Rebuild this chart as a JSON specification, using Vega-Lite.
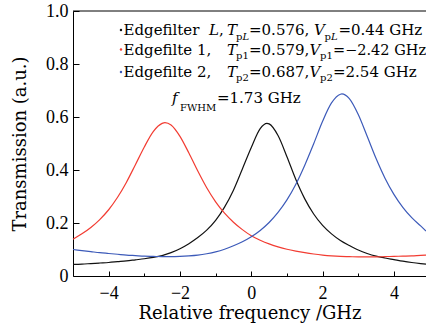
{
  "$schema": "https://vega.github.io/schema/vega-lite/v6.json",
  "width": 353,
  "height": 265,
  "autosize": {"type": "none"},
  "padding": {"left": 73, "top": 11, "right": 0, "bottom": 50},
  "background": "white",
  "data": {"values": [{"k": 1}]},
  "config": {
    "view": {"stroke": null},
    "font": "DejaVu Serif",
    "axis": {"grid": false, "domainColor": "black", "tickColor": "black", "labelColor": "black", "titleColor": "black", "labelFont": "Liberation Serif", "labelFontSize": 18, "titleFont": "DejaVu Serif", "titleFontSize": 18, "titleFontWeight": "normal", "domainWidth": 1, "tickWidth": 1},
    "text": {"font": "DejaVu Serif", "color": "black"}
  },
  "datasets": {
    "curves": [
      {"s": "L", "f": -5, "t": 0.044}, {"s": "L", "f": -4.75, "t": 0.045}, {"s": "L", "f": -4.5, "t": 0.047}, {"s": "L", "f": -4.25, "t": 0.049}, {"s": "L", "f": -4, "t": 0.051}, {"s": "L", "f": -3.75, "t": 0.054}, {"s": "L", "f": -3.5, "t": 0.057}, {"s": "L", "f": -3.25, "t": 0.061}, {"s": "L", "f": -3, "t": 0.065}, {"s": "L", "f": -2.75, "t": 0.070}, {"s": "L", "f": -2.5, "t": 0.077}, {"s": "L", "f": -2.25, "t": 0.088}, {"s": "L", "f": -2, "t": 0.103}, {"s": "L", "f": -1.75, "t": 0.122}, {"s": "L", "f": -1.5, "t": 0.145}, {"s": "L", "f": -1.25, "t": 0.173}, {"s": "L", "f": -1, "t": 0.210}, {"s": "L", "f": -0.75, "t": 0.260}, {"s": "L", "f": -0.5, "t": 0.324}, {"s": "L", "f": -0.25, "t": 0.404}, {"s": "L", "f": 0, "t": 0.485}, {"s": "L", "f": 0.25, "t": 0.556}, {"s": "L", "f": 0.44, "t": 0.576}, {"s": "L", "f": 0.5, "t": 0.574}, {"s": "L", "f": 0.75, "t": 0.530}, {"s": "L", "f": 1, "t": 0.450}, {"s": "L", "f": 1.25, "t": 0.364}, {"s": "L", "f": 1.5, "t": 0.291}, {"s": "L", "f": 1.75, "t": 0.234}, {"s": "L", "f": 2, "t": 0.191}, {"s": "L", "f": 2.25, "t": 0.159}, {"s": "L", "f": 2.5, "t": 0.134}, {"s": "L", "f": 2.75, "t": 0.115}, {"s": "L", "f": 3, "t": 0.098}, {"s": "L", "f": 3.25, "t": 0.085}, {"s": "L", "f": 3.5, "t": 0.075}, {"s": "L", "f": 3.75, "t": 0.068}, {"s": "L", "f": 4, "t": 0.062}, {"s": "L", "f": 4.25, "t": 0.056}, {"s": "L", "f": 4.5, "t": 0.051}, {"s": "L", "f": 4.75, "t": 0.047}, {"s": "L", "f": 4.9, "t": 0.045},
      {"s": "1", "f": -5, "t": 0.139}, {"s": "1", "f": -4.75, "t": 0.159}, {"s": "1", "f": -4.5, "t": 0.183}, {"s": "1", "f": -4.25, "t": 0.213}, {"s": "1", "f": -4, "t": 0.250}, {"s": "1", "f": -3.75, "t": 0.297}, {"s": "1", "f": -3.5, "t": 0.354}, {"s": "1", "f": -3.25, "t": 0.420}, {"s": "1", "f": -3, "t": 0.487}, {"s": "1", "f": -2.75, "t": 0.545}, {"s": "1", "f": -2.5, "t": 0.576}, {"s": "1", "f": -2.42, "t": 0.579}, {"s": "1", "f": -2.25, "t": 0.570}, {"s": "1", "f": -2, "t": 0.527}, {"s": "1", "f": -1.75, "t": 0.464}, {"s": "1", "f": -1.5, "t": 0.396}, {"s": "1", "f": -1.25, "t": 0.333}, {"s": "1", "f": -1, "t": 0.280}, {"s": "1", "f": -0.75, "t": 0.237}, {"s": "1", "f": -0.5, "t": 0.203}, {"s": "1", "f": -0.25, "t": 0.175}, {"s": "1", "f": 0, "t": 0.152}, {"s": "1", "f": 0.25, "t": 0.135}, {"s": "1", "f": 0.5, "t": 0.121}, {"s": "1", "f": 0.75, "t": 0.110}, {"s": "1", "f": 1, "t": 0.101}, {"s": "1", "f": 1.25, "t": 0.094}, {"s": "1", "f": 1.5, "t": 0.088}, {"s": "1", "f": 1.75, "t": 0.083}, {"s": "1", "f": 2, "t": 0.079}, {"s": "1", "f": 2.25, "t": 0.076}, {"s": "1", "f": 2.5, "t": 0.074}, {"s": "1", "f": 2.75, "t": 0.073}, {"s": "1", "f": 3, "t": 0.072}, {"s": "1", "f": 3.25, "t": 0.072}, {"s": "1", "f": 3.5, "t": 0.072}, {"s": "1", "f": 3.75, "t": 0.073}, {"s": "1", "f": 4, "t": 0.074}, {"s": "1", "f": 4.25, "t": 0.075}, {"s": "1", "f": 4.5, "t": 0.076}, {"s": "1", "f": 4.75, "t": 0.078}, {"s": "1", "f": 4.9, "t": 0.079},
      {"s": "2", "f": -5, "t": 0.100}, {"s": "2", "f": -4.75, "t": 0.096}, {"s": "2", "f": -4.5, "t": 0.092}, {"s": "2", "f": -4.25, "t": 0.088}, {"s": "2", "f": -4, "t": 0.085}, {"s": "2", "f": -3.75, "t": 0.082}, {"s": "2", "f": -3.5, "t": 0.079}, {"s": "2", "f": -3.25, "t": 0.077}, {"s": "2", "f": -3, "t": 0.075}, {"s": "2", "f": -2.75, "t": 0.074}, {"s": "2", "f": -2.5, "t": 0.073}, {"s": "2", "f": -2.25, "t": 0.073}, {"s": "2", "f": -2, "t": 0.074}, {"s": "2", "f": -1.75, "t": 0.076}, {"s": "2", "f": -1.5, "t": 0.079}, {"s": "2", "f": -1.25, "t": 0.084}, {"s": "2", "f": -1, "t": 0.091}, {"s": "2", "f": -0.75, "t": 0.101}, {"s": "2", "f": -0.5, "t": 0.114}, {"s": "2", "f": -0.25, "t": 0.129}, {"s": "2", "f": 0, "t": 0.148}, {"s": "2", "f": 0.25, "t": 0.172}, {"s": "2", "f": 0.5, "t": 0.202}, {"s": "2", "f": 0.75, "t": 0.240}, {"s": "2", "f": 1, "t": 0.287}, {"s": "2", "f": 1.25, "t": 0.346}, {"s": "2", "f": 1.5, "t": 0.418}, {"s": "2", "f": 1.75, "t": 0.499}, {"s": "2", "f": 2, "t": 0.584}, {"s": "2", "f": 2.25, "t": 0.653}, {"s": "2", "f": 2.5, "t": 0.686}, {"s": "2", "f": 2.54, "t": 0.687}, {"s": "2", "f": 2.75, "t": 0.669}, {"s": "2", "f": 3, "t": 0.609}, {"s": "2", "f": 3.25, "t": 0.527}, {"s": "2", "f": 3.5, "t": 0.443}, {"s": "2", "f": 3.75, "t": 0.369}, {"s": "2", "f": 4, "t": 0.308}, {"s": "2", "f": 4.25, "t": 0.259}, {"s": "2", "f": 4.5, "t": 0.220}, {"s": "2", "f": 4.75, "t": 0.189}, {"s": "2", "f": 4.9, "t": 0.170}
    ]
  },
  "layer": [
    {
      "data": {"name": "curves"},
      "mark": {"type": "line", "strokeWidth": 1.2, "interpolate": "monotone"},
      "encoding": {
        "x": {"field": "f", "type": "quantitative", "scale": {"domain": [-5, 4.9], "nice": false, "zero": false},
          "axis": {"title": "Relative frequency /GHz", "values": [-4, -3, -2, -1, 0, 1, 2, 3, 4],
            "tickSize": {"condition": {"test": "datum.value % 2 !== 0", "value": -3}, "value": -5},
            "labelFont": "Liberation Serif", "labelFontSize": 18,
            "labelExpr": "datum.value % 2 === 0 ? datum.label : ''", "labelPadding": 13, "titlePadding": 2}},
        "y": {"field": "t", "type": "quantitative", "scale": {"domain": [0, 1], "nice": false, "zero": true},
          "axis": {"title": "Transmission (a.u.)", "values": [0, 0.1, 0.2, 0.3, 0.4, 0.5, 0.6, 0.7, 0.8, 0.9, 1.0],
            "tickSize": {"condition": {"test": "round(datum.value*10) % 2 !== 0", "value": -3.5}, "value": -6},
            "labelFont": "Liberation Serif", "labelFontSize": 18,
            "labelExpr": "round(datum.value*10) % 2 === 0 ? (datum.value === 0 ? '0' : format(datum.value, '.1f')) : ''", "labelPadding": 11, "titlePadding": 16}},
        "color": {"field": "s", "type": "nominal", "scale": {"domain": ["L", "1", "2"], "range": ["#111111", "#f23c32", "#3c5ab9"]}, "legend": null},
        "detail": {"field": "s"}
      }
    },
    {"mark": {"type": "rule", "color": "black", "strokeWidth": 1}, "encoding": {"y": {"datum": 1}}},
    {"mark": {"type": "point", "filled": true, "size": 6, "opacity": 1, "color": "#111111"}, "encoding": {"x": {"datum": -3.654}, "y": {"datum": 0.9283}}},
    {"mark": {"type": "point", "filled": true, "size": 6, "opacity": 1, "color": "#f23c32"}, "encoding": {"x": {"datum": -3.654}, "y": {"datum": 0.8547}}},
    {"mark": {"type": "point", "filled": true, "size": 6, "opacity": 1, "color": "#3c5ab9"}, "encoding": {"x": {"datum": -3.654}, "y": {"datum": 0.7698}}},

    {"mark": {"type": "text", "align": "left", "baseline": "alphabetic", "font": "DejaVu Serif", "fontSize": 15}, "encoding": {"x": {"datum": -3.584}, "y": {"datum": 0.9094}, "text": {"value": "Edgefilter"}}},
    {"mark": {"type": "text", "align": "left", "baseline": "alphabetic", "font": "DejaVu Serif", "fontSize": 15, "fontStyle": "italic"}, "encoding": {"x": {"datum": -1.186}, "y": {"datum": 0.9094}, "text": {"value": "L"}}},
    {"mark": {"type": "text", "align": "left", "baseline": "alphabetic", "font": "DejaVu Serif", "fontSize": 15}, "encoding": {"x": {"datum": -0.906}, "y": {"datum": 0.9094}, "text": {"value": ","}}},
    {"mark": {"type": "text", "align": "left", "baseline": "alphabetic", "font": "DejaVu Serif", "fontSize": 15, "fontStyle": "italic"}, "encoding": {"x": {"datum": -0.681}, "y": {"datum": 0.9094}, "text": {"value": "T"}}},
    {"mark": {"type": "text", "align": "left", "baseline": "alphabetic", "font": "DejaVu Serif", "fontSize": 10}, "encoding": {"x": {"datum": -0.429}, "y": {"datum": 0.8906}, "text": {"value": "p"}}},
    {"mark": {"type": "text", "align": "left", "baseline": "alphabetic", "font": "DejaVu Serif", "fontSize": 10, "fontStyle": "italic"}, "encoding": {"x": {"datum": -0.247}, "y": {"datum": 0.8906}, "text": {"value": "L"}}},
    {"mark": {"type": "text", "align": "left", "baseline": "alphabetic", "font": "DejaVu Serif", "fontSize": 15}, "encoding": {"x": {"datum": -0.064}, "y": {"datum": 0.9094}, "text": {"value": "=0.576,"}}},
    {"mark": {"type": "text", "align": "left", "baseline": "alphabetic", "font": "DejaVu Serif", "fontSize": 15, "fontStyle": "italic"}, "encoding": {"x": {"datum": 1.758}, "y": {"datum": 0.9094}, "text": {"value": "V"}}},
    {"mark": {"type": "text", "align": "left", "baseline": "alphabetic", "font": "DejaVu Serif", "fontSize": 10}, "encoding": {"x": {"datum": 2.053}, "y": {"datum": 0.8906}, "text": {"value": "p"}}},
    {"mark": {"type": "text", "align": "left", "baseline": "alphabetic", "font": "DejaVu Serif", "fontSize": 10, "fontStyle": "italic"}, "encoding": {"x": {"datum": 2.235}, "y": {"datum": 0.8906}, "text": {"value": "L"}}},
    {"mark": {"type": "text", "align": "left", "baseline": "alphabetic", "font": "DejaVu Serif", "fontSize": 15}, "encoding": {"x": {"datum": 2.445}, "y": {"datum": 0.9094}, "text": {"value": "=0.44 GHz"}}},

    {"mark": {"type": "text", "align": "left", "baseline": "alphabetic", "font": "DejaVu Serif", "fontSize": 15}, "encoding": {"x": {"datum": -3.584}, "y": {"datum": 0.834}, "text": {"value": "Edgefilte 1,"}}},
    {"mark": {"type": "text", "align": "left", "baseline": "alphabetic", "font": "DejaVu Serif", "fontSize": 15, "fontStyle": "italic"}, "encoding": {"x": {"datum": -0.681}, "y": {"datum": 0.834}, "text": {"value": "T"}}},
    {"mark": {"type": "text", "align": "left", "baseline": "alphabetic", "font": "DejaVu Serif", "fontSize": 10}, "encoding": {"x": {"datum": -0.429}, "y": {"datum": 0.817}, "text": {"value": "p1"}}},
    {"mark": {"type": "text", "align": "left", "baseline": "alphabetic", "font": "DejaVu Serif", "fontSize": 15}, "encoding": {"x": {"datum": -0.064}, "y": {"datum": 0.834}, "text": {"value": "=0.579,"}}},
    {"mark": {"type": "text", "align": "left", "baseline": "alphabetic", "font": "DejaVu Serif", "fontSize": 15, "fontStyle": "italic"}, "encoding": {"x": {"datum": 1.632}, "y": {"datum": 0.834}, "text": {"value": "V"}}},
    {"mark": {"type": "text", "align": "left", "baseline": "alphabetic", "font": "DejaVu Serif", "fontSize": 10}, "encoding": {"x": {"datum": 1.927}, "y": {"datum": 0.817}, "text": {"value": "p1"}}},
    {"mark": {"type": "text", "align": "left", "baseline": "alphabetic", "font": "DejaVu Serif", "fontSize": 14.5}, "encoding": {"x": {"datum": 2.291}, "y": {"datum": 0.834}, "text": {"value": "=−2.42 GHz"}}},

    {"mark": {"type": "text", "align": "left", "baseline": "alphabetic", "font": "DejaVu Serif", "fontSize": 15}, "encoding": {"x": {"datum": -3.584}, "y": {"datum": 0.7528}, "text": {"value": "Edgefilte 2,"}}},
    {"mark": {"type": "text", "align": "left", "baseline": "alphabetic", "font": "DejaVu Serif", "fontSize": 15, "fontStyle": "italic"}, "encoding": {"x": {"datum": -0.681}, "y": {"datum": 0.7528}, "text": {"value": "T"}}},
    {"mark": {"type": "text", "align": "left", "baseline": "alphabetic", "font": "DejaVu Serif", "fontSize": 10}, "encoding": {"x": {"datum": -0.429}, "y": {"datum": 0.7358}, "text": {"value": "p2"}}},
    {"mark": {"type": "text", "align": "left", "baseline": "alphabetic", "font": "DejaVu Serif", "fontSize": 15}, "encoding": {"x": {"datum": -0.064}, "y": {"datum": 0.7528}, "text": {"value": "=0.687,"}}},
    {"mark": {"type": "text", "align": "left", "baseline": "alphabetic", "font": "DejaVu Serif", "fontSize": 15, "fontStyle": "italic"}, "encoding": {"x": {"datum": 1.632}, "y": {"datum": 0.7528}, "text": {"value": "V"}}},
    {"mark": {"type": "text", "align": "left", "baseline": "alphabetic", "font": "DejaVu Serif", "fontSize": 10}, "encoding": {"x": {"datum": 1.927}, "y": {"datum": 0.7358}, "text": {"value": "p2"}}},
    {"mark": {"type": "text", "align": "left", "baseline": "alphabetic", "font": "DejaVu Serif", "fontSize": 15}, "encoding": {"x": {"datum": 2.291}, "y": {"datum": 0.7528}, "text": {"value": "=2.54 GHz"}}},

    {"mark": {"type": "text", "align": "left", "baseline": "alphabetic", "font": "DejaVu Serif", "fontSize": 15, "fontStyle": "italic"}, "encoding": {"x": {"datum": -2.224}, "y": {"datum": 0.6528}, "text": {"value": "f"}}},
    {"mark": {"type": "text", "align": "left", "baseline": "alphabetic", "font": "DejaVu Serif", "fontSize": 10}, "encoding": {"x": {"datum": -1.999}, "y": {"datum": 0.6226}, "text": {"value": "FWHM"}}},
    {"mark": {"type": "text", "align": "left", "baseline": "alphabetic", "font": "DejaVu Serif", "fontSize": 15}, "encoding": {"x": {"datum": -0.962}, "y": {"datum": 0.6528}, "text": {"value": "=1.73 GHz"}}}
  ]
}
